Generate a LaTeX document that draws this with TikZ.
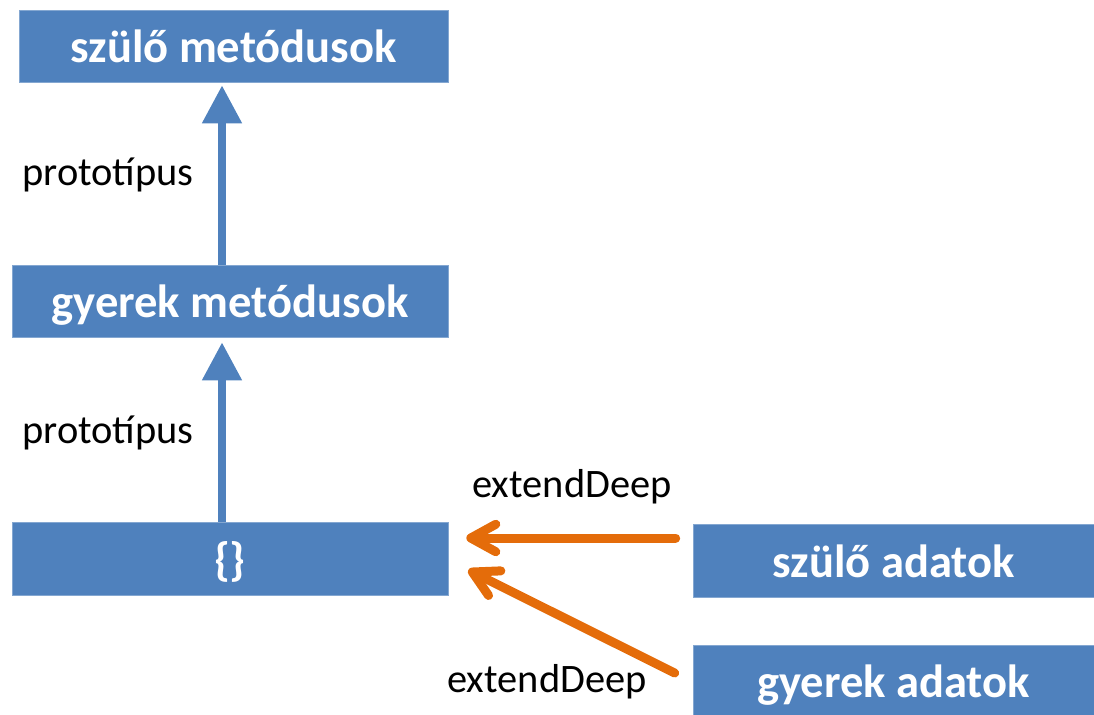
\documentclass[tikz,border=0pt]{standalone}
\usepackage{fontspec}
\setmainfont{Carlito}
\usepackage{tikz}
\usetikzlibrary{arrows.meta,calc}

\definecolor{officeblue}{HTML}{4F81BD}
\definecolor{officeorange}{HTML}{E46C0A}

\begin{document}
\begin{tikzpicture}
  [x=0.02cm, y=-0.02cm,
    box/.style={rectangle, fill=officeblue, draw=officeblue!70!white, thin, text=white,
      font=\fontsize{26.5pt}{30pt}\selectfont\bfseries, text height=24.5pt, text depth=5.7pt,
      minimum height=1.44cm, inner sep=0pt},
    label/.style={anchor=base, inner sep=0pt, font=\fontsize{23pt}{27pt}\selectfont},
    protoarrow/.style={draw=officeblue, line width=0.16cm, -{Triangle[length=0.76cm, width=0.76cm]}},
    extendarrow/.style={draw=officeorange, line width=0.18cm, line cap=round,
      -{Straight Barb[length=0.5cm, width=0.55cm, round]}}
  ]

  \useasboundingbox (0,0) rectangle (1094,714);

  % boxes
  \node[box, minimum width=8.58cm] (szulomet)   at (233.5, 46)  {szülő metódusok};
  \node[box, minimum width=8.72cm] (gyerekmet)  at (230, 301)   {gyerek metódusok};
  \node[box, minimum width=8.72cm, minimum height=1.46cm] (ures) at (230, 558.5) {\{\kern-1pt\}};
  \node[box, minimum width=8.02cm, minimum height=1.46cm] (szuloadat) at (893.5, 560.5) {szülő adatok};
  \node[box, minimum width=8.02cm] (gyerekadat) at (893.5, 681) {gyerek adatok};

  % labels
  \node[label] (proto1) at (108, 185) {prototípus};
  \node[label] (proto2) at (108, 443) {prototípus};
  \node[label] (ext1)   at (572, 497) {extendDeep};
  \node[label] (ext2)   at (547, 692) {extendDeep};

  % prototype chain
  \draw[protoarrow] ($(gyerekmet.north)+(-8,0)$) -- ($(szulomet.south)+(-11.5,3)$);
  \draw[protoarrow] ($(ures.north)+(-8,0)$) -- ($(gyerekmet.south)+(-8,5)$);

  % extendDeep
  \draw[extendarrow] ($(szuloadat.west)+(-17,-22.5)$) -- ($(ures.east)+(18,-20.5)$);
  \draw[extendarrow] ($(gyerekadat.west)+(-18,-8)$) -- ($(ures.east)+(20,11.5)$);

\end{tikzpicture}
\end{document}
